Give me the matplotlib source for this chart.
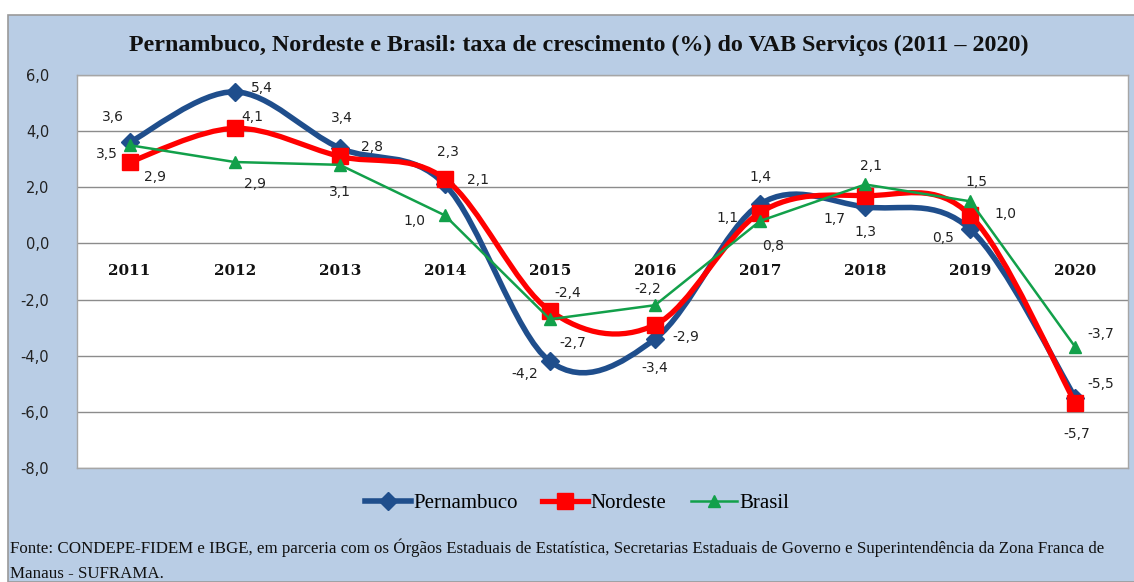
import matplotlib.pyplot as plt
from matplotlib.path import Path
from matplotlib.patches import PathPatch, Rectangle
from matplotlib.lines import Line2D

anos = ['2011', '2012', '2013', '2014', '2015', '2016', '2017', '2018', '2019', '2020']
pernambuco = [3.6, 5.4, 3.4, 2.1, -4.2, -3.4, 1.4, 1.3, 0.5, -5.5]
nordeste = [2.9, 4.1, 3.1, 2.3, -2.4, -2.9, 1.1, 1.7, 1.0, -5.7]
brasil = [3.5, 2.9, 2.8, 1.0, -2.7, -2.2, 0.8, 2.1, 1.5, -3.7]

# deslocamento dos rótulos (pixels) em relação ao ponto
off_pe = [(-17, 25), (27, 4), (2, 30), (33, 4), (-25, -13), (0, -29), (0, 27), (0, -25), (-27, -9), (25, 14)]
off_ne = [(25, -15), (18, 11), (0, -36), (3, 27), (18, 18), (31, -12), (-33, -5), (-31, -23), (35, 1), (1, -31)]
off_br = [(-23, -9), (20, -22), (32, 18), (-30, -6), (23, -24), (-7, 16), (13, -25), (6, 18), (6, 19), (25, 13)]

AZUL = '#1F4E8C'
VERMELHO = '#FF0000'
VERDE = '#12A04A'
FUNDO = '#B9CDE5'
SERIF = ['Liberation Serif', 'DejaVu Serif']


def curva_suave(xs, ys):
    """Curva de Bezier estilo Excel (Catmull-Rom)"""
    pts = list(zip(xs, ys))
    verts = [pts[0]]
    codes = [Path.MOVETO]
    n = len(pts)
    for i in range(n - 1):
        p0 = pts[i - 1] if i > 0 else pts[i]
        p1 = pts[i]
        p2 = pts[i + 1]
        p3 = pts[i + 2] if i + 2 < n else pts[i + 1]
        c1 = (p1[0] + (p2[0] - p0[0]) / 6, p1[1] + (p2[1] - p0[1]) / 6)
        c2 = (p2[0] - (p3[0] - p1[0]) / 6, p2[1] - (p3[1] - p1[1]) / 6)
        verts += [c1, c2, p2]
        codes += [Path.CURVE4] * 3
    return Path(verts, codes)


fig = plt.figure(figsize=(11.34, 5.82), dpi=100)
fig.patches.append(Rectangle((8 / 1134, 0), 1, (582 - 15) / 582, transform=fig.transFigure,
                             facecolor=FUNDO, edgecolor='#9A9A9A', linewidth=1.2, zorder=-10))

ax = fig.add_axes([77 / 1134, 1 - 468 / 582, 1051 / 1134, 393 / 582])
ax.set_facecolor('white')
x = list(range(len(anos)))

for v in range(-8, 7, 2):
    ax.axhline(v, color='#8C8C8C', linewidth=1, zorder=1)

ax.add_patch(PathPatch(curva_suave(x, pernambuco), facecolor='none', edgecolor=AZUL,
                       linewidth=4.0, zorder=3, capstyle='round', joinstyle='round'))
ax.plot(x, pernambuco, linestyle='none', marker='D', markersize=9, color=AZUL, zorder=4)

ax.add_patch(PathPatch(curva_suave(x, nordeste), facecolor='none', edgecolor=VERMELHO,
                       linewidth=3.8, zorder=5, capstyle='round', joinstyle='round'))
ax.plot(x, nordeste, linestyle='none', marker='s', markersize=12, color=VERMELHO, zorder=6)

ax.plot(x, brasil, color=VERDE, linewidth=1.8, marker='^', markersize=8, zorder=7)

for serie, offs in ((pernambuco, off_pe), (nordeste, off_ne), (brasil, off_br)):
    for i, (v, (dx, dy)) in enumerate(zip(serie, offs)):
        ax.annotate(f'{v:.1f}'.replace('.', ','), (i, v), xytext=(dx, dy), textcoords='offset pixels',
                    ha='center', va='center', fontsize=10, color='#222222', zorder=8)

ax.set_xlim(-0.5, 9.5)
ax.set_ylim(-8, 6)
ax.set_yticks(range(-8, 7, 2))
ax.set_yticklabels([f'{v:.1f}'.replace('.', ',') for v in range(-8, 7, 2)], fontsize=10.5, color='#222222')
ax.tick_params(axis='y', length=0, pad=20)
ax.set_xticks([])
for i, a in enumerate(anos):
    ax.annotate(a, (i, 0), xytext=(0, -28), textcoords='offset pixels', ha='center', va='center',
                fontsize=11, fontweight='bold', family=['DejaVu Serif'], color='#111111', zorder=8)
for s in ax.spines.values():
    s.set_color('#A6A6A6')
    s.set_linewidth(1)

fig.text(579 / 1134, 1 - 45 / 582,
         'Pernambuco, Nordeste e Brasil: taxa de crescimento (%) do VAB Serviços (2011 – 2020)',
         ha='center', va='center', fontsize=17.3, fontweight='bold', family=SERIF, color='#111111')

handles = [
    Line2D([], [], color=AZUL, linewidth=4.0, marker='D', markersize=9),
    Line2D([], [], color=VERMELHO, linewidth=3.8, marker='s', markersize=12),
    Line2D([], [], color=VERDE, linewidth=1.8, marker='^', markersize=8),
]
fig.legend(handles, ['Pernambuco', 'Nordeste', 'Brasil'], loc='center', ncol=3,
           bbox_to_anchor=(577 / 1134, 1 - 503 / 582), frameon=False, handlelength=2.2,
           handletextpad=0.1, columnspacing=1.2, prop={'family': SERIF, 'size': 15})

fig.text(10 / 1134, 1 - 548 / 582,
         'Fonte: CONDEPE-FIDEM e IBGE, em parceria com os Órgãos Estaduais de Estatística, '
         'Secretarias Estaduais de Governo e Superintendência da Zona Franca de',
         ha='left', va='center', fontsize=12.2, family=SERIF, color='#111111')
fig.text(10 / 1134, 1 - 574 / 582, 'Manaus - SUFRAMA.',
         ha='left', va='center', fontsize=12.2, family=SERIF, color='#111111')

fig.savefig('out.png', dpi=100)
